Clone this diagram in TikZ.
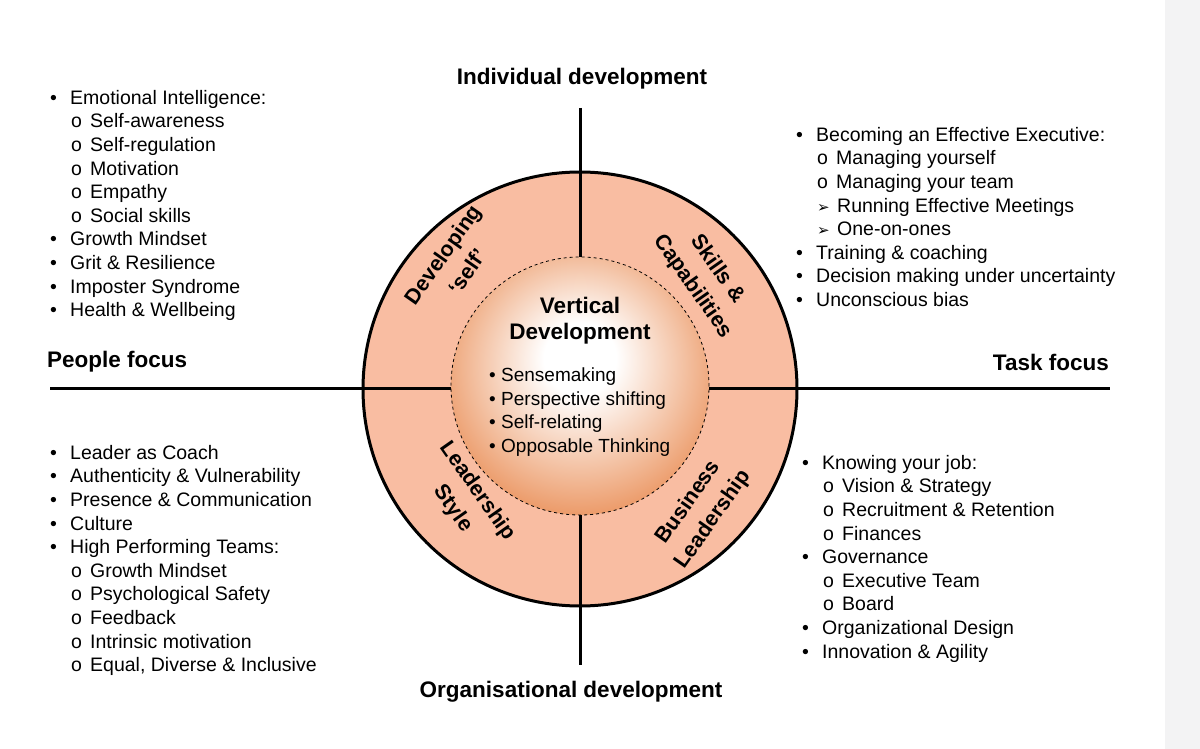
\documentclass[tikz,border=0pt]{standalone}
\usepackage{fontspec}
\setmainfont{Liberation Sans}
\newfontfamily\dv{DejaVu Sans}
\definecolor{ring}{HTML}{F9BDA2}
\definecolor{orng}{HTML}{E4712B}
\definecolor{strip}{HTML}{F3F3F4}
\pgfdeclareradialshading{vdshade}{\pgfpoint{0bp}{6bp}}{color(0bp)=(white);color(7bp)=(white);color(37bp)=(orng);color(60bp)=(orng)}
\newcommand{\bi}[1]{\makebox[20pt][l]{•}#1}
\newcommand{\si}[1]{\hspace*{21pt}\makebox[19pt][l]{o}#1}
\newcommand{\ai}[1]{\hspace*{21pt}\makebox[20pt][l]{\dv\fontsize{15}{15}\selectfont ➢}#1}
\begin{document}
\begin{tikzpicture}[x=1pt,y=-1pt,
  lst/.style={anchor=north west,inner sep=0pt,align=left,font=\fontsize{19.5}{23.6}\selectfont},
  hdr/.style={inner sep=0pt,font=\fontsize{22.5}{26}\selectfont\bfseries},
  quad/.style={inner sep=0pt,align=center,font=\fontsize{21.5}{30}\selectfont\bfseries},
  axis/.style={line width=3pt}]
\useasboundingbox (0,0) rectangle (1200,749);
\fill[white] (0,0) rectangle (1200,749);
\fill[strip] (1165,0) rectangle (1200,749);
\node[draw,line width=3pt,circle,fill=ring,minimum size=434pt] (outer) at (580,389) {};
\coordinate (top) at (580,108);
\coordinate (bot) at (580,665);
\coordinate (lft) at (50,388);
\coordinate (rgt) at (1110,388);
\draw[axis] (top) -- (bot);
\draw[axis] (lft) -- (rgt);
\node[draw,dashed,thick,circle,minimum size=258pt,shading=vdshade] (inner) at (580,386) {};
\node[hdr] (ind) at (582,79) {Individual development};
\node[hdr] (org) at (571,692) {Organisational development};
\node[hdr,anchor=west] (ppl) at (47,362) {People focus};
\node[hdr,anchor=east] (task) at (1109,362) {Task focus};
\node[quad,rotate=55] (q1) at (455,263) {Developing\\‘self’};
\node[quad,rotate=-55] (q2) at (705,278) {Skills \&\\Capabilities};
\node[quad,rotate=-55] (q3) at (465,500) {Leadership\\Style};
\node[quad,rotate=55] (q4) at (701,511) {Business\\Leadership};
\node[inner sep=0pt,align=center,font=\fontsize{22.5}{26}\selectfont\bfseries] (vd) at (580,321) {Vertical\\Development};
\node[anchor=north west,inner sep=0pt,align=left,font=\fontsize{19}{23.4}\selectfont] (vl) at (489,368)
 {\makebox[12pt][l]{•}Sensemaking\\\makebox[12pt][l]{•}Perspective shifting\\\makebox[12pt][l]{•}Self-relating\\\makebox[12pt][l]{•}Opposable Thinking};
\node[lst] (l1) at (50,90) {\bi{Emotional Intelligence:}\\\si{Self-awareness}\\\si{Self-regulation}\\\si{Motivation}\\\si{Empathy}\\\si{Social skills}\\\bi{Growth Mindset}\\\bi{Grit \& Resilience}\\\bi{Imposter Syndrome}\\\bi{Health \& Wellbeing}};
\node[lst] (l2) at (50,445) {\bi{Leader as Coach}\\\bi{Authenticity \& Vulnerability}\\\bi{Presence \& Communication}\\\bi{Culture}\\\bi{High Performing Teams:}\\\si{Growth Mindset}\\\si{Psychological Safety}\\\si{Feedback}\\\si{Intrinsic motivation}\\\si{Equal, Diverse \& Inclusive}};
\node[lst] (r1) at (796,127) {\bi{Becoming an Effective Executive:}\\\si{Managing yourself}\\\si{Managing your team}\\\ai{Running Effective Meetings}\\\ai{One-on-ones}\\\bi{Training \& coaching}\\\bi{Decision making under uncertainty}\\\bi{Unconscious bias}};
\node[lst] (r2) at (802,455) {\bi{Knowing your job:}\\\si{Vision \& Strategy}\\\si{Recruitment \& Retention}\\\si{Finances}\\\bi{Governance}\\\si{Executive Team}\\\si{Board}\\\bi{Organizational Design}\\\bi{Innovation \& Agility}};
\end{tikzpicture}
\end{document}
